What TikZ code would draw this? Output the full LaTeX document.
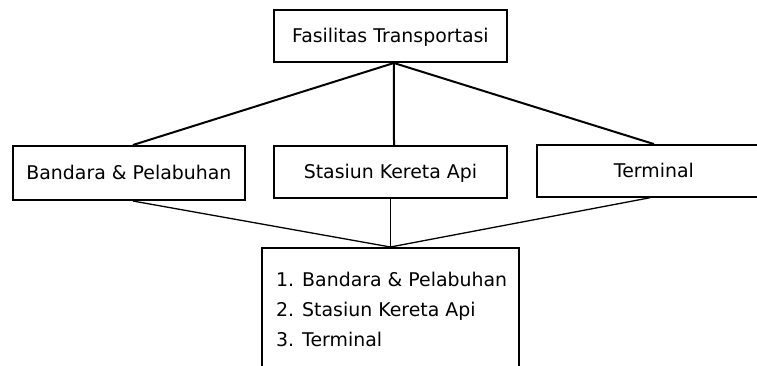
\documentclass[tikz,border=0pt]{standalone}
\usepackage{fontspec}
\setmainfont{DejaVu Sans}
\begin{document}
\begin{tikzpicture}[x=1pt,y=-1pt,
  box/.style={draw, line width=2pt, rectangle, inner sep=0pt, text height=13.8pt, text depth=0pt, font=\fontsize{18.9}{22}\selectfont},
  item/.style={anchor=base west, inner sep=0pt, font=\fontsize{18.9}{22}\selectfont},
  thicklink/.style={line width=2pt},
  thinlink/.style={line width=1.3pt},
  hairlink/.style={line width=1pt}]
\useasboundingbox (0,0) rectangle (757,365);
\clip (0,0) rectangle (757,365);
\fill[white] (0,0) rectangle (757,365);
\node[box, minimum width=232.7pt, minimum height=52pt] (top) at (390.4,36) {Fasilitas Transportasi};
\node[box, minimum width=232.3pt, minimum height=54pt] (bandara) at (128.9,173) {Bandara \& Pelabuhan};
\node[box, minimum width=232.7pt, minimum height=52.3pt] (stasiun) at (390.4,171.9) {Stasiun Kereta Api};
\node[box, minimum width=234.3pt, minimum height=51.7pt] (terminal) at (653.9,170.9) {Terminal};
\node[draw, line width=2pt, rectangle, inner sep=0pt, minimum width=257.3pt, minimum height=152pt] (list) at (390.4,324) {};
\node[item] (i1) at (276,286.7) {1. Bandara \& Pelabuhan};
\node[item] (i2) at (276,316.7) {2. Stasiun Kereta Api};
\node[item] (i3) at (276,346.7) {3. Terminal};
\coordinate (join) at (list.north);
\draw[thicklink] ([xshift=3.5pt]top.south) -- ([xshift=4pt]bandara.north);
\draw[thicklink] ([xshift=3.5pt]top.south) -- ([xshift=3.6pt]stasiun.north);
\draw[thicklink] ([xshift=3.5pt]top.south) -- (terminal.north);
\draw[thinlink] ([xshift=4pt]bandara.south) -- (join);
\draw[hairlink] (stasiun.south) -- (join);
\draw[thinlink] ([xshift=-4pt]terminal.south) -- (join);
\end{tikzpicture}
\end{document}
